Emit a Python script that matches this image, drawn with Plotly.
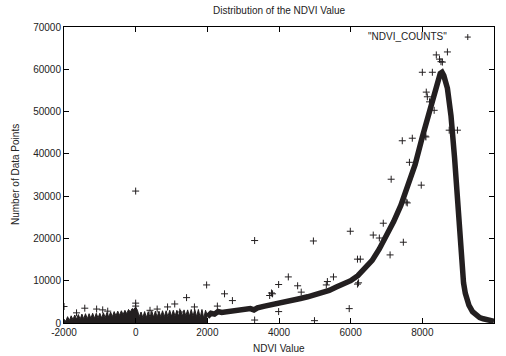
import plotly.graph_objects as go

# Noisy low-value region: sawtooth envelope of the dense point cloud
band_x = [-2000, -1950, -1900, -1850, -1800, -1750, -1700, -1650, -1600, -1550,
          -1500, -1450, -1400, -1350, -1300, -1250, -1200, -1150, -1100, -1050,
          -1000, -950, -900, -850, -800, -750, -700, -650, -600, -550,
          -500, -450, -400, -350, -300, -250, -200, -150, -100, -50,
          0, 50, 100, 150, 200, 250, 300, 350, 400, 450,
          500, 550, 600, 650, 700, 750, 800, 850, 900, 950,
          1000, 1050, 1100, 1150, 1200, 1250, 1300, 1350, 1400, 1450,
          1500, 1550, 1600, 1650, 1700, 1750, 1800, 1850, 1900, 1950, 2000]
band_y = [900, 400, 1500, 600, 1700, 800, 1900, 900, 2000, 900,
          2100, 1000, 2200, 1000, 2200, 1100, 2300, 1100, 2300, 1200,
          2300, 1200, 2400, 1300, 2500, 1400, 2600, 1500, 2700, 1700,
          2800, 1800, 2900, 2000, 3000, 2200, 3200, 2600, 3400, 3200,
          3800, 3000, 1500, 2600, 1300, 2700, 1300, 2700, 1400, 2800,
          1400, 2800, 1400, 2800, 1500, 2900, 1500, 2900, 1500, 3000,
          1600, 3000, 1600, 3000, 1600, 3100, 1600, 3100, 1700, 3100,
          1600, 3200, 1600, 3200, 1500, 3200, 1300, 3200, 1100, 3000, 1800]

# Main distribution curve
curve_x = [2000, 2100, 2200, 2300, 2400, 2600, 2800, 3000, 3200, 3300,
           3400, 3600, 3800, 4000, 4200, 4400, 4600, 4800, 5000, 5200,
           5400, 5600, 5800, 6000, 6200, 6400, 6600, 6800, 7000, 7200,
           7400, 7600, 7800, 8000, 8100, 8200, 8300, 8400, 8500, 8550,
           8600, 8700, 8800, 8900, 9000, 9050, 9100, 9150, 9200, 9300,
           9400, 9500, 9600, 9700, 9800, 9900, 10000]
curve_y = [1500, 2300, 2100, 2700, 2500, 2800, 3000, 3200, 3400, 3100,
           3600, 4000, 4300, 4600, 5000, 5400, 5800, 6200, 6700, 7100,
           7700, 8500, 9200, 10000, 11200, 12800, 14800, 17500, 20500, 24000,
           27800, 32500, 37500, 44000, 47000, 50500, 54000, 57000, 59000, 59300,
           58500, 55500, 49000, 39000, 27000, 20000, 14000, 9500, 7000, 4200,
           2700, 1800, 1300, 1000, 800, 600, 400]

# Scattered outlier counts
out_x = [0, 3320, 4960, 4260, 1980, 3990, 4520, 2480, 1420, 5520,
         0, 0, 1090, 890, 1640, 2280, 2700, 3740, 3820, -1420,
         -2000, -1090, -920, -1650, -780, 1230, 0, 3990, 3320, 4990,
         5960, 5320, 6190, 6190, 5350, 3790, 4620, 7440, 7720, 7130,
         7970, 5990, 7470, 6630, 6910, 6800, 7100, 6220, 6270, 7640,
         7580, 8080, 8390, 8480, 8560, 8700, 8000, 8280, 8110, 8200,
         8330, 8980, 8520, 8140, 8750, 7550, 8100, 600, 400]
out_y = [31200, 19500, 19400, 10900, 9000, 9100, 8800, 6900, 6000, 10900,
         4700, 4000, 4500, 3800, 3800, 4000, 5300, 6500, 6900, 3500,
         3900, 3300, 3100, 2400, 2800, 2600, 0, 2700, 700, 550,
         3400, 9000, 9200, 15100, 9800, 7100, 7300, 43100, 43700, 34000,
         32600, 21700, 19100, 20800, 23600, 20100, 16100, 9500, 15100, 38000,
         28400, 44200, 63400, 62400, 61700, 64100, 59300, 59300, 54600, 52300,
         50300, 45600, 61800, 53500, 45600, 28600, 44000, 3300, 3000]

x_ticks = [-2000, 0, 2000, 4000, 6000, 8000, 10000]
y_ticks = [0, 10000, 20000, 30000, 40000, 50000, 60000, 70000]

ink = "#231f20"
font = dict(family="Liberation Sans, Arial, sans-serif", size=10, color="#222")

fig = go.Figure()
fig.add_trace(go.Scatter(x=band_x, y=band_y, mode="lines", fill="tozeroy",
                         fillcolor=ink, line=dict(color=ink, width=1),
                         showlegend=False, hoverinfo="skip"))
fig.add_trace(go.Scatter(x=curve_x, y=curve_y, mode="lines",
                         line=dict(color=ink, width=5.5), showlegend=False,
                         hoverinfo="skip"))
fig.add_trace(go.Scatter(x=out_x, y=out_y, mode="markers",
                         marker=dict(symbol="cross-thin", size=5,
                                     line=dict(color=ink, width=1)),
                         showlegend=False))

axis_common = dict(showgrid=False, zeroline=False, showline=True,
                   linecolor="black", linewidth=1, mirror="ticks",
                   ticks="inside", ticklen=5, tickcolor="black",
                   tickfont=font)

fig.update_layout(
    width=506, height=356,
    margin=dict(l=64, r=12, t=27, b=33),
    paper_bgcolor="white", plot_bgcolor="white",
    xaxis=dict(range=[-2000, 10000], tickvals=x_ticks,
               ticktext=[str(v) for v in x_ticks], **axis_common),
    yaxis=dict(range=[0, 70000], tickvals=y_ticks,
               ticktext=[str(v) for v in y_ticks], **axis_common),
    annotations=[
        dict(text="Distribution of the NDVI Value", xref="paper", yref="paper",
             x=0.5, y=1, yshift=17, yanchor="middle", showarrow=False, font=font),
        dict(text="NDVI Value", xref="paper", yref="paper",
             x=0.5, y=0, yshift=-25, yanchor="middle", showarrow=False, font=font),
        dict(text="Number of Data Points", xref="paper", yref="paper",
             x=0, y=0.5, xshift=-49, xanchor="center", textangle=-90,
             showarrow=False, font=font),
        dict(text='"NDVI_COUNTS"', xref="paper", yref="paper",
             x=0.895, y=0.967, xanchor="right", yanchor="middle",
             showarrow=False, font=font),
    ],
    shapes=[
        dict(type="line", xref="paper", yref="paper", x0=0.932, x1=0.946,
             y0=0.966, y1=0.966, line=dict(color=ink, width=1)),
        dict(type="line", xref="paper", yref="paper", x0=0.939, x1=0.939,
             y0=0.956, y1=0.976, line=dict(color=ink, width=1)),
    ],
)

fig.write_html("out.html")
